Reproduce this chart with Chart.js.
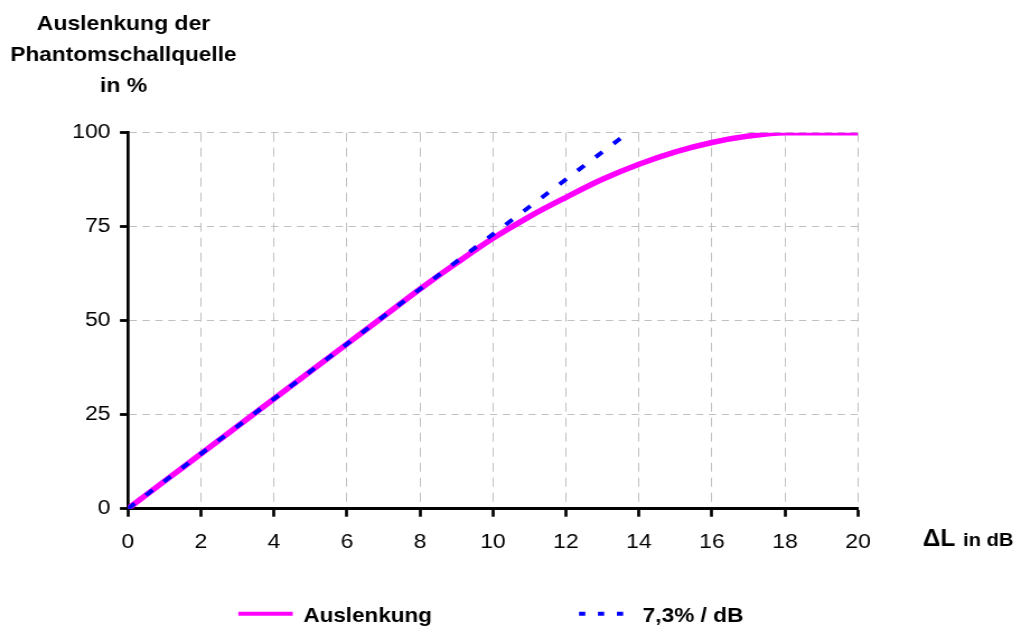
<!DOCTYPE html>
<html>
<head>
<meta charset="utf-8">
<script src="https://cdn.jsdelivr.net/npm/chart.js@4.4.1/dist/chart.umd.min.js"></script>
<style>
  html, body { margin: 0; padding: 0; background: #ffffff; overflow: hidden; }
  #wrap { width: 912px; height: 628px; transform: scaleX(1.11952); transform-origin: 0 0; }
  canvas { display: block; }
</style>
</head>
<body>
<div id="wrap"><canvas id="c" width="912" height="628"></canvas></div>
<script>
// ---- data ----
const levelDiff = [0,1,2,3,4,5,6,7,8,9,10,11,12,13,14,15,16,17,18,19,20];
const auslenkung = [0,7.3,14.6,21.9,29.2,36.5,43.8,51.1,58.4,65.3,71.9,77.7,82.8,87.6,91.6,94.9,97.4,99.1,100,100,100];
const slopeX = [0, 13.7];
const slopeY = [0, 100];
const seriesNames = ['Auslenkung', '7,3% / dB'];
const yTitleLines = ['Auslenkung der', 'Phantomschallquelle', 'in %'];
const xTitleMain = '\u0394L';
const xTitleUnit = 'in dB';
const xMin = 0, xMax = 20, xStep = 2;
const yMin = 0, yMax = 100, yStep = 25;

const FONT = '"Liberation Sans", Arial, Helvetica, sans-serif';
const PINK = '#ff00ff';
const BLUE = '#0000ff';

const toPts = (xs, ys) => xs.map((x, i) => ({ x: x, y: ys[i] }));

const annotations = {
  id: 'annotations',
  afterDraw(chart) {
    const ctx = chart.ctx;
    ctx.save();
    ctx.fillStyle = '#000';
    // y axis title
    ctx.textAlign = 'center';
    ctx.textBaseline = 'alphabetic';
    ctx.font = 'bold 20.5px ' + FONT;
    yTitleLines.forEach((t, i) => ctx.fillText(t, 110.3, 30 + 31 * i, 202));
    // x axis title
    ctx.textAlign = 'left';
    ctx.font = 'bold 23px ' + FONT;
    ctx.fillText(xTitleMain, 824.2, 546, 29);
    ctx.font = 'bold 18px ' + FONT;
    ctx.fillText(xTitleUnit, 860.2, 546, 46.4);
    // legend
    const ds = chart.data.datasets;
    const ly = 613.7;
    ctx.lineCap = 'butt';
    ctx.strokeStyle = ds[0].borderColor;
    ctx.lineWidth = 4;
    ctx.setLineDash([]);
    ctx.beginPath(); ctx.moveTo(212.9, ly); ctx.lineTo(261.5, ly); ctx.stroke();
    ctx.strokeStyle = ds[1].borderColor;
    ctx.setLineDash([5.6, 11.3]);
    ctx.beginPath(); ctx.moveTo(517.2, ly); ctx.lineTo(558, ly); ctx.stroke();
    ctx.setLineDash([]);
    ctx.font = 'bold 20.5px ' + FONT;
    ctx.fillText(ds[0].label, 270.9, 621.5, 115);
    ctx.fillText(ds[1].label, 574.1, 621.5, 90);
    ctx.restore();
  }
};

new Chart(document.getElementById('c'), {
  type: 'line',
  data: {
    datasets: [
      {
        label: seriesNames[0],
        data: toPts(levelDiff, auslenkung),
        borderColor: PINK,
        borderWidth: 5.5,
        pointRadius: 0,
        cubicInterpolationMode: 'monotone',
        fill: false,
        order: 1
      },
      {
        label: seriesNames[1],
        data: toPts(slopeX, slopeY),
        borderColor: BLUE,
        borderWidth: 4,
        borderDash: [8, 13],
        pointRadius: 0,
        fill: false,
        order: 0
      }
    ]
  },
  options: {
    responsive: false,
    animation: false,
    devicePixelRatio: 1,
    layout: { padding: { left: 0, top: 132.7, right: 145.6, bottom: 0 } },
    plugins: { legend: { display: false }, tooltip: { enabled: false }, title: { display: false } },
    scales: {
      x: {
        type: 'linear',
        min: xMin, max: xMax,
        ticks: { stepSize: xStep, color: '#000', padding: 13, font: { family: FONT, size: 20.5 }, maxRotation: 0 },
        grid: { color: '#c0c0c0', lineWidth: 1, tickColor: '#000', tickLength: 8, tickWidth: 2.7 },
        border: { display: true, color: '#000', width: 3, dash: [9, 6] },
        afterFit(scale) { scale.height = 628 - 508.7; }
      },
      y: {
        type: 'linear',
        min: yMin, max: yMax,
        ticks: { stepSize: yStep, color: '#000', padding: 8.4, font: { family: FONT, size: 20.5 } },
        grid: { color: '#c0c0c0', lineWidth: 1, tickColor: '#000', tickLength: 7.1, tickWidth: 2.8 },
        border: { display: true, color: '#000', width: 2.7, dash: [6.5, 5] },
        afterFit(scale) { scale.width = 114.2; }
      }
    }
  },
  plugins: [annotations]
});
</script>
</body>
</html>
